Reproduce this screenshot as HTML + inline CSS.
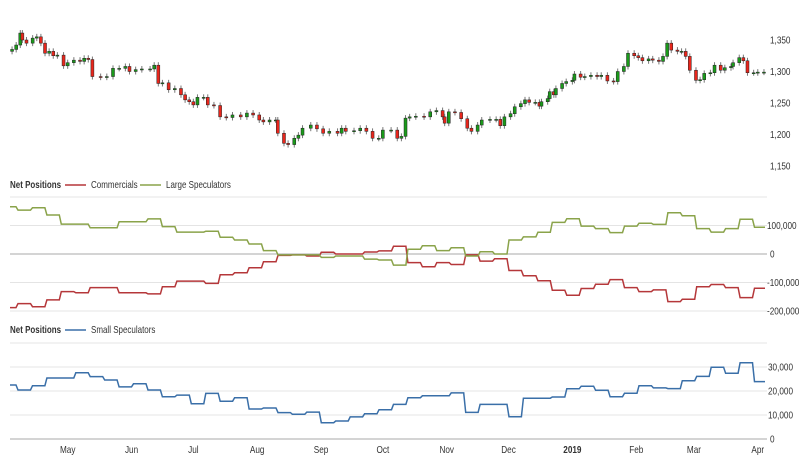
<!DOCTYPE html>
<html><head><meta charset="utf-8"><style>
html,body{margin:0;padding:0;background:#fff;}
svg{display:block;font-family:"Liberation Sans",Arial,sans-serif;}
.tk{font-size:10px;fill:#333;}
.lg{font-size:10px;fill:#333;}
</style></head><body>
<svg id="chart" width="800" height="459" viewBox="0 0 800 459">
<g id="grid"></g>
<g id="candles"></g>
<g id="lines"></g>
<g id="ticks"></g>
<g>
<text transform="translate(10,188) scale(0.8,1)" class="lg" font-weight="bold">Net Positions</text>
<line x1="65" y1="185" x2="86" y2="185" stroke="#b5373a" stroke-width="1.5"/>
<text transform="translate(91,188) scale(0.8,1)" class="lg">Commercials</text>
<line x1="140" y1="185" x2="161" y2="185" stroke="#8aa34a" stroke-width="1.5"/>
<text transform="translate(166,188) scale(0.8,1)" class="lg">Large Speculators</text>
</g>
<g>
<text transform="translate(10,333) scale(0.8,1)" class="lg" font-weight="bold">Net Positions</text>
<line x1="65" y1="330" x2="86" y2="330" stroke="#3a6fa8" stroke-width="1.5"/>
<text transform="translate(91,333) scale(0.8,1)" class="lg">Small Speculators</text>
</g>
</svg>
<script>
// price candles: day offsets since 2018-04-03 and closes
const candleDays=[1,3,5,6,8,11,13,15,17,19,21,23,26,28,31,34,36,38,40,44,47,50,53,56,58,61,64,68,70,72,74,77,80,83,85,87,89,91,94,96,99,102,105,108,112,115,118,121,123,126,129,130,133,135,138,140,142,146,149,152,155,159,161,163,167,170,173,176,179,181,185,188,190,192,194,197,201,204,207,210,211,213,216,219,222,224,227,229,233,236,238,240,243,245,248,250,252,255,257,258,261,262,264,265,268,270,273,274,277,279,282,285,287,290,293,295,298,300,303,305,307,310,312,315,317,319,321,324,326,328,330,333,335,337,340,342,345,347,350,351,354,356,358,361,363,366];
const candleClose=[1335,1342,1361,1350,1345,1353,1355,1345,1329,1332,1325,1326,1309,1314,1318,1316,1321,1319,1292,1291,1292,1305,1305,1308,1300,1303,1304,1304,1310,1281,1282,1271,1273,1263,1255,1252,1247,1259,1259,1247,1246,1228,1227,1231,1228,1234,1231,1223,1220,1223,1223,1202,1186,1184,1194,1199,1210,1215,1209,1202,1205,1202,1210,1205,1206,1210,1205,1194,1194,1207,1207,1194,1197,1226,1228,1229,1228,1236,1238,1228,1218,1236,1235,1225,1210,1205,1215,1223,1224,1224,1214,1228,1233,1244,1249,1255,1251,1251,1245,1252,1257,1268,1263,1273,1281,1284,1286,1296,1291,1292,1294,1292,1294,1285,1284,1300,1308,1329,1325,1322,1317,1320,1318,1316,1324,1345,1334,1332,1332,1324,1302,1286,1287,1297,1298,1310,1302,1306,1308,1314,1322,1317,1298,1298,1299,1299];
// weekly net positions (thousands of contracts)
const largeSpec=[166,154,162,137,105,105,92,92,113,113,123,96,77,77,80,59,49,35,12,-3,-3,-3,-12,-7,-7,-18,-21,-39,17,29,12,22,-7,8,0,49,60,76,111,124,98,89,75,98,108,104,145,134,89,77,89,122,94];
const commercials=[-188,-174,-185,-161,-132,-136,-118,-118,-136,-136,-140,-115,-95,-95,-103,-73,-66,-48,-27,-5,-3,-7,6,0,0,7,11,27,-30,-45,-30,-37,-3,-25,-17,-58,-76,-94,-127,-145,-121,-106,-90,-118,-132,-126,-167,-159,-115,-107,-118,-153,-120];
const smallSpec=[22.5,20.4,22.2,25.4,25.4,27.6,26,24.6,21.7,23,20.4,17.6,18.3,14.7,19,15.7,17.2,12.5,12.9,11,10.3,11.2,6.8,7.5,9.2,10.5,12.2,14.4,17.2,18,18,19.2,11.1,14.4,14.4,9.3,17,17,17.5,20.9,22,20.3,17.6,19.1,22.2,21.3,21,24.3,26.1,29.9,27.4,31.8,23.9];
const priceTicks=[1350,1300,1250,1200,1150];
const priceTickLabels=["1,350","1,300","1,250","1,200","1,150"];
const netTicks=[200,100,0,-100,-200];
const netTickLabels=["","100,000","0","-100,000","-200,000"];
const smallTicks=[40,30,20,10,0];
const smallTickLabels=["","30,000","20,000","10,000","0"];
const monthDays=[28,59,89,120,151,181,212,242,273,304,332,363];
const monthLabels=["May","Jun","Jul","Aug","Sep","Oct","Nov","Dec","2019","Feb","Mar","Apr"];

const NS="http://www.w3.org/2000/svg";
const X0=10,X1=767;
const xDay=d=>10+d*2.06;
const yPrice=p=>40+(1350-p)*0.63;
const yNet=v=>254-v*0.285;
const ySmall=v=>439-v*2.4;
const weekDay=i=>-3.6+i*7.01;
function mk(tag,attrs,parent){const e=document.createElementNS(NS,tag);for(const k in attrs)e.setAttribute(k,attrs[k]);parent.appendChild(e);return e;}
function label(x,y,txt,parent,anchor,bold){
  const t=mk('text',{transform:'translate('+x+','+y+') scale(0.82,1)',class:'tk','text-anchor':anchor||'start','font-weight':bold?'bold':'normal'},parent);
  t.textContent=txt;return t;
}
const grid=document.getElementById('grid'),ticks=document.getElementById('ticks');
netTicks.forEach((v,i)=>{
  const l=mk('line',{x1:X0,x2:X1,y1:yNet(v),y2:yNet(v),stroke:v===0?'#aaa':'#e4e4e4','stroke-width':1},grid);
  
  
  if(netTickLabels[i]){const t=label(v===0?770:767,yNet(v)+3.5,netTickLabels[i],ticks);
  
  }
});
smallTicks.forEach((v,i)=>{
  const l=mk('line',{x1:X0,x2:X1,y1:ySmall(v),y2:ySmall(v),stroke:v===0?'#aaa':'#e4e4e4','stroke-width':1},grid);
  
  
  if(smallTickLabels[i]){const t=label(v===0?770:768,ySmall(v)+3.5,smallTickLabels[i],ticks);
  
  }
});
priceTicks.forEach((v,i)=>{const t=label(770,yPrice(v)+3.5,priceTickLabels[i],ticks);
  
  });
monthDays.forEach((d,i)=>{const t=label(xDay(d),453,monthLabels[i],ticks,'middle',monthLabels[i]==='2019');
  
  });
// candles
const cg=document.getElementById('candles');
candleDays.forEach((d,i)=>{
  const c=candleClose[i],o=i>0?candleClose[i-1]:c-3;
  const x=xDay(d),yo=yPrice(o),yc=yPrice(c);
  const top=Math.min(yo,yc),bot=Math.max(yo,yc);
  const w=mk('line',{x1:x,x2:x,y1:top-3,y2:bot+3,stroke:'#777','stroke-width':1},cg);
  
  
  const r=mk('rect',{x:x-1.5,y:top,width:3,height:Math.max(bot-top,1),fill:c>=o?'#1a9a1a':'#e8261c',stroke:'#222','stroke-width':0.5},cg);
  
  
});
// step lines
const lg=document.getElementById('lines');
function stepPath(vals,yf){
  let p='';
  vals.forEach((v,i)=>{
    const xa=Math.max(X0,xDay(weekDay(i))+1), xb=Math.min(765,i<vals.length-1?xDay(weekDay(i+1))-1:765);
    p+=(i===0?'M':'L')+xa.toFixed(1)+','+yf(v).toFixed(1)+'L'+xb.toFixed(1)+','+yf(v).toFixed(1);
  });
  return p;
}
const pc=mk('path',{d:stepPath(commercials,yNet),fill:'none',stroke:'#b5373a','stroke-width':1.5},lg);


const pl=mk('path',{d:stepPath(largeSpec,yNet),fill:'none',stroke:'#8aa34a','stroke-width':1.5},lg);


const ps=mk('path',{d:stepPath(smallSpec,ySmall),fill:'none',stroke:'#3a6fa8','stroke-width':1.5},lg);


</script>
</body></html>
